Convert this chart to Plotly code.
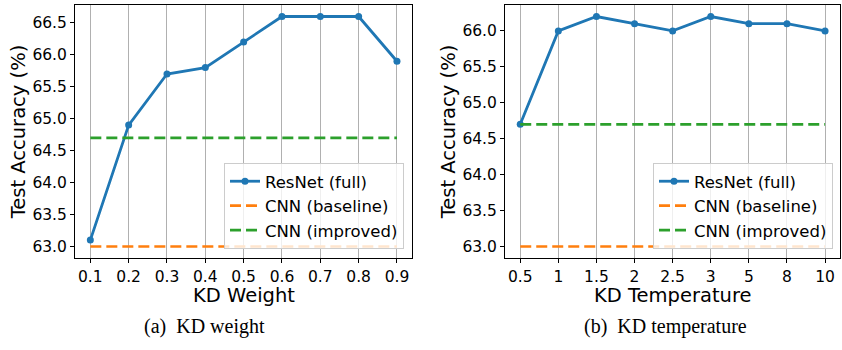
import plotly.graph_objects as go

# ---- data ----
kd_weight = ["0.1", "0.2", "0.3", "0.4", "0.5", "0.6", "0.7", "0.8", "0.9"]
resnet_weight = [63.1, 64.9, 65.7, 65.8, 66.2, 66.6, 66.6, 66.6, 65.9]

kd_temp = ["0.5", "1", "1.5", "2", "2.5", "3", "5", "8", "10"]
resnet_temp = [64.7, 66.0, 66.2, 66.1, 66.0, 66.2, 66.1, 66.1, 66.0]

cnn_baseline = 63.0
cnn_improved = 64.7

left_yticks = [63.0, 63.5, 64.0, 64.5, 65.0, 65.5, 66.0, 66.5]
right_yticks = [63.0, 63.5, 64.0, 64.5, 65.0, 65.5, 66.0]

W, H = 842, 350
BLUE, ORANGE, GREEN = "#1f77b4", "#ff7f0e", "#2ca02c"
FONT = "DejaVu Sans"


def yrange(vals):
    lo, hi = min(vals), max(vals)
    pad = 0.05 * (hi - lo)
    return [lo - pad, hi + pad]


fig = go.Figure()

panels = [
    dict(x=kd_weight, y=resnet_weight, xa="x", ya="y", legend="legend"),
    dict(x=kd_temp, y=resnet_temp, xa="x2", ya="y2", legend="legend2"),
]
for p in panels:
    xs = p["x"]
    fig.add_trace(go.Scatter(
        x=xs, y=p["y"], mode="lines+markers", name="ResNet (full)",
        line=dict(color=BLUE, width=2.8), marker=dict(size=7, color=BLUE),
        xaxis=p["xa"], yaxis=p["ya"], legend=p["legend"]))
    fig.add_trace(go.Scatter(
        x=[xs[0], xs[-1]], y=[cnn_baseline, cnn_baseline], mode="lines",
        name="CNN (baseline)", line=dict(color=ORANGE, width=2.7, dash="11px,5px"),
        xaxis=p["xa"], yaxis=p["ya"], legend=p["legend"]))
    fig.add_trace(go.Scatter(
        x=[xs[0], xs[-1]], y=[cnn_improved, cnn_improved], mode="lines",
        name="CNN (improved)", line=dict(color=GREEN, width=2.7, dash="11px,5px"),
        xaxis=p["xa"], yaxis=p["ya"], legend=p["legend"]))

axis_common = dict(showline=True, mirror=True, linecolor="black", linewidth=1,
                   ticks="outside", ticklen=4, tickwidth=1, tickcolor="black",
                   tickfont=dict(family=FONT, size=15.5, color="black"),
                   zeroline=False)
xaxis_extra = dict(showgrid=True, gridcolor="#b0b0b0", gridwidth=1,
                   type="category", categoryorder="array", range=[-0.4, 8.4])
title_font = dict(family=FONT, size=19.5, color="black")

y_top = 1 - 5 / H
y_bot = 1 - 258 / H
xl = [75 / W, 412.3 / W]
xr = [505 / W, 840.3 / W]

fig.update_layout(
    width=W, height=H, margin=dict(l=0, r=0, t=0, b=0),
    paper_bgcolor="white", plot_bgcolor="white",
    font=dict(family=FONT, color="black"),
    showlegend=True,
    xaxis=dict(domain=xl, anchor="y", categoryarray=kd_weight,
               **xaxis_extra, **axis_common),
    yaxis=dict(domain=[y_bot, y_top], anchor="x",
               range=yrange(resnet_weight + [cnn_baseline, cnn_improved]),
               tickvals=left_yticks, tickformat=".1f", showgrid=False,
               title=dict(text="Test Accuracy (%)", font=title_font, standoff=1),
               **axis_common),
    xaxis2=dict(domain=xr, anchor="y2", categoryarray=kd_temp,
                **xaxis_extra, **axis_common),
    yaxis2=dict(domain=[y_bot, y_top], anchor="x2",
                range=yrange(resnet_temp + [cnn_baseline, cnn_improved]),
                tickvals=right_yticks, tickformat=".1f", showgrid=False,
                title=dict(text="Test Accuracy (%)", font=title_font, standoff=1),
                **axis_common),
    legend=dict(x=404 / W, y=1 - 249 / H, xanchor="right", yanchor="bottom",
                bgcolor="rgba(255,255,255,0.8)", bordercolor="#cccccc", borderwidth=1,
                font=dict(family=FONT, size=16.5, color="black"), tracegroupgap=0),
    legend2=dict(x=833 / W, y=1 - 249 / H, xanchor="right", yanchor="bottom",
                 bgcolor="rgba(255,255,255,0.8)", bordercolor="#cccccc", borderwidth=1,
                 font=dict(family=FONT, size=16.5, color="black"), tracegroupgap=0),
    annotations=[
        dict(text="KD Weight", x=(xl[0] + xl[1]) / 2, y=1 - 295 / H, xref="paper", yref="paper",
             xanchor="center", yanchor="middle", showarrow=False, font=title_font),
        dict(text="KD Temperature", x=(xr[0] + xr[1]) / 2, y=1 - 295 / H, xref="paper", yref="paper",
             xanchor="center", yanchor="middle", showarrow=False, font=title_font),
        dict(text="(a)  KD weight", x=204 / W, y=1 - 326 / H, xref="paper", yref="paper",
             xanchor="center", yanchor="middle", showarrow=False,
             font=dict(family="Liberation Serif", size=20, color="black")),
        dict(text="(b)  KD temperature", x=665 / W, y=1 - 326 / H, xref="paper", yref="paper",
             xanchor="center", yanchor="middle", showarrow=False,
             font=dict(family="Liberation Serif", size=20, color="black")),
    ],
)

fig.write_html("out.html")
